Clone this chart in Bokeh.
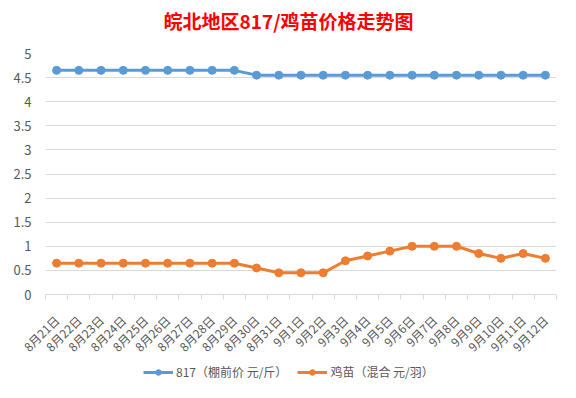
from bokeh.plotting import figure
from bokeh.layouts import column
from bokeh.models import (Range1d, FixedTicker, NumeralTickFormatter, Legend, LegendItem,
                          ColumnDataSource, Label)
from bokeh.embed import file_html
from bokeh.resources import INLINE
import math

title_text = "皖北地区817/鸡苗价格走势图"
dates = ["8月21日", "8月22日", "8月23日", "8月24日", "8月25日", "8月26日", "8月27日", "8月28日",
         "8月29日", "8月30日", "8月31日", "9月1日", "9月2日", "9月3日", "9月4日", "9月5日",
         "9月6日", "9月7日", "9月8日", "9月9日", "9月10日", "9月11日", "9月12日"]
price_817 = [4.65, 4.65, 4.65, 4.65, 4.65, 4.65, 4.65, 4.65, 4.65, 4.55, 4.55, 4.55, 4.55,
             4.55, 4.55, 4.55, 4.55, 4.55, 4.55, 4.55, 4.55, 4.55, 4.55]
price_chick = [0.65, 0.65, 0.65, 0.65, 0.65, 0.65, 0.65, 0.65, 0.65, 0.55, 0.45, 0.45, 0.45,
               0.7, 0.8, 0.9, 1.0, 1.0, 1.0, 0.85, 0.75, 0.85, 0.75]
series_names = ["817（棚前价 元/斤）", "鸡苗（混合 元/羽）"]
y_ticks = [0, 0.5, 1, 1.5, 2, 2.5, 3, 3.5, 4, 4.5, 5]

FONT = "Noto Sans CJK SC"
BLUE = "#5B9BD5"
ORANGE = "#ED7D31"
GREY = "#595959"
W = 560

def strip(h):
    f = figure(width=W, height=h, output_backend="svg", toolbar_location=None,
               x_axis_location=None, y_axis_location=None,
               x_range=Range1d(0, 1), y_range=Range1d(0, 1),
               min_border_left=0, min_border_right=0, min_border_top=0, min_border_bottom=0)
    f.grid.visible = False
    f.outline_line_color = None
    f.border_fill_color = "white"
    f.background_fill_color = "white"
    return f

# title strip (frames are aligned with the main plot in the column)
tf = strip(40)
tf.add_layout(Label(x=243, y=20, x_units="screen", y_units="screen", text=title_text,
                    text_align="center", text_baseline="middle", text_color="#FF0000",
                    text_font=FONT, text_font_size="19px", text_font_style="bold"))

idx = list(range(len(dates)))
src = ColumnDataSource(dict(x=idx, a=price_817, b=price_chick))

p = figure(width=W, height=323, output_backend="svg", toolbar_location=None,
           x_range=Range1d(-0.5, len(dates) - 0.5), y_range=Range1d(0, 5),
           min_border_left=45, min_border_right=4, min_border_top=13, min_border_bottom=65)
p.outline_line_color = None
p.background_fill_color = "white"
p.border_fill_color = "white"

# grid
p.xgrid.visible = False
p.ygrid.ticker = FixedTicker(ticks=y_ticks)
p.ygrid.grid_line_color = "#D9D9D9"
p.ygrid.grid_line_width = 1

# y axis
p.yaxis.ticker = FixedTicker(ticks=y_ticks)
p.yaxis.formatter = NumeralTickFormatter(format="0.[0]")
p.yaxis.axis_line_color = None
p.yaxis.major_tick_line_color = None
p.yaxis.minor_tick_line_color = None
p.yaxis.major_label_text_font = FONT
p.yaxis.major_label_text_font_size = "13px"
p.yaxis.major_label_text_color = GREY
p.yaxis.major_label_standoff = 8

# x axis
boundaries = [i - 0.5 for i in range(len(dates) + 1)]
p.xaxis.ticker = FixedTicker(ticks=idx, minor_ticks=boundaries)
p.xaxis.major_label_overrides = {i: d for i, d in enumerate(dates)}
p.xaxis.major_label_orientation = math.pi / 4
p.xaxis.axis_line_color = "#D9D9D9"
p.xaxis.major_tick_line_color = None
p.xaxis.minor_tick_line_color = "#D9D9D9"
p.xaxis.minor_tick_in = 0
p.xaxis.minor_tick_out = 5
p.xaxis.major_label_text_font = FONT
p.xaxis.major_label_text_font_size = "12px"
p.xaxis.major_label_text_color = GREY
p.xaxis.major_label_standoff = 17

p.line("x", "a", source=src, line_color=BLUE, line_width=3)
p.scatter("x", "a", source=src, size=8, fill_color=BLUE, line_color=BLUE)
p.line("x", "b", source=src, line_color=ORANGE, line_width=3)
p.scatter("x", "b", source=src, size=8, fill_color=ORANGE, line_color=ORANGE)

# legend strip
lg = strip(19)
dummy = ColumnDataSource(dict(x=[-1], y=[-1]))
d1 = lg.line("x", "y", source=dummy, line_color=BLUE, line_width=3)
m1 = lg.scatter("x", "y", source=dummy, size=8, fill_color=BLUE, line_color=BLUE)
d2 = lg.line("x", "y", source=dummy, line_color=ORANGE, line_width=3)
m2 = lg.scatter("x", "y", source=dummy, size=8, fill_color=ORANGE, line_color=ORANGE)
legend = Legend(items=[LegendItem(label=series_names[0], renderers=[d1, m1]),
                       LegendItem(label=series_names[1], renderers=[d2, m2])],
                orientation="horizontal", location=(98, 2),
                label_text_font=FONT, label_text_font_size="12px", label_text_color=GREY,
                glyph_width=30, glyph_height=14, label_height=14, label_standoff=3,
                spacing=10, padding=0, margin=0, border_line_color=None,
                background_fill_alpha=0)
lg.add_layout(legend)

layout = column(tf, p, lg, spacing=0)
open("out.html", "w").write(file_html(layout, INLINE))
